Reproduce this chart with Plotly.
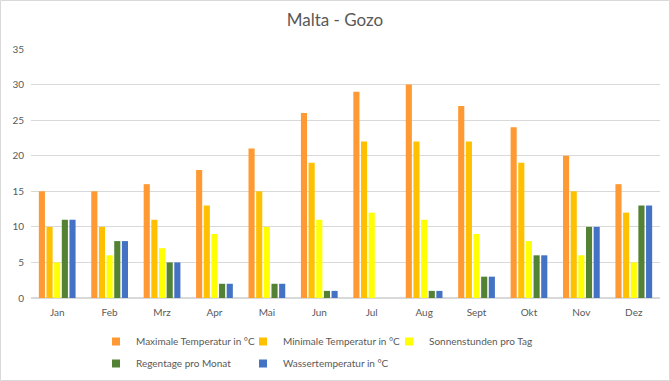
import plotly.graph_objects as go

months = ["Jan", "Feb", "Mrz", "Apr", "Mai", "Jun", "Jul", "Aug", "Sept", "Okt", "Nov", "Dez"]
max_temp = [15, 15, 16, 18, 21, 26, 29, 30, 27, 24, 20, 16]
min_temp = [10, 10, 11, 13, 15, 19, 22, 22, 22, 19, 15, 12]
sun_hours = [5, 6, 7, 9, 10, 11, 12, 11, 9, 8, 6, 5]
rain_days = [11, 8, 5, 2, 2, 1, 0, 1, 3, 6, 10, 13]
water_temp = [11, 8, 5, 2, 2, 1, 0, 1, 3, 6, 10, 13]

series = [
    ("Maximale Temperatur in °C", max_temp, "#FF9933"),
    ("Minimale Temperatur in °C", min_temp, "#FFC000"),
    ("Sonnenstunden pro Tag", sun_hours, "#FFFF00"),
    ("Regentage pro Monat", rain_days, "#548235"),
    ("Wassertemperatur in °C", water_temp, "#4472C4"),
]
# legend slot (pixel symbol centre x, row top y) for each series
legend_slots = [(117, 327), (264, 327), (410, 327), (117, 349), (264, 349)]

W, H = 670, 381
ml, mr, mt, mb = 31, 10, 49, 83
pw, ph = W - ml - mr, H - mt - mb

fig = go.Figure()
for name, vals, col in series:
    fig.add_trace(go.Bar(x=months, y=vals, name=name, legendgroup=name, showlegend=False,
                         marker=dict(color=col, line=dict(width=0))))

legends = {}
for i, (name, vals, col) in enumerate(series):
    key = "legend" if i == 0 else f"legend{i + 1}"
    fig.add_trace(go.Scatter(x=[None], y=[None], mode="markers", name=name, legendgroup=name,
                             legend=key, marker=dict(symbol="square", size=8, color=col)))
    sx, sy = legend_slots[i]
    legends[key] = dict(orientation="h", xanchor="left", yanchor="top",
                        x=(sx - 21 - ml) / pw, y=-(sy - (H - mb)) / ph,
                        bgcolor="rgba(0,0,0,0)", font=dict(size=10, color="#595959"),
                        itemwidth=30, traceorder="normal")

fig.update_layout(
    width=W, height=H,
    margin=dict(l=ml, r=mr, t=mt, b=mb, autoexpand=False),
    paper_bgcolor="white", plot_bgcolor="white",
    font=dict(family="Lato, Open Sans, sans-serif", color="#595959", size=10),
    title=dict(text="Malta - Gozo", x=0.5, xanchor="center", y=1 - 20 / H, yanchor="middle",
               font=dict(size=17, color="#595959")),
    barmode="group", bargap=0.27, bargroupgap=0.2,
    xaxis=dict(showgrid=False, showline=False, ticks="", tickfont=dict(size=10),
               ticklabelstandoff=7),
    yaxis=dict(range=[0, 35], dtick=5, showgrid=True, gridcolor="#D9D9D9", gridwidth=1,
               zeroline=True, zerolinecolor="#D9D9D9", ticks="", tickfont=dict(size=10),
               ticklabelstandoff=6),
    showlegend=True,
    **legends,
)
fig.add_shape(type="rect", xref="paper", yref="paper",
              x0=-(ml - 0.5) / pw, x1=1 + (mr - 0.5) / pw,
              y0=-(mb - 0.5) / ph, y1=1 + (mt - 0.5) / ph,
              line=dict(color="#D9D9D9", width=1), fillcolor="rgba(0,0,0,0)", layer="below")
fig.write_html("out.html", config={"displayModeBar": False},
               post_script="document.body.style.margin='0';document.body.style.overflow='hidden';")
